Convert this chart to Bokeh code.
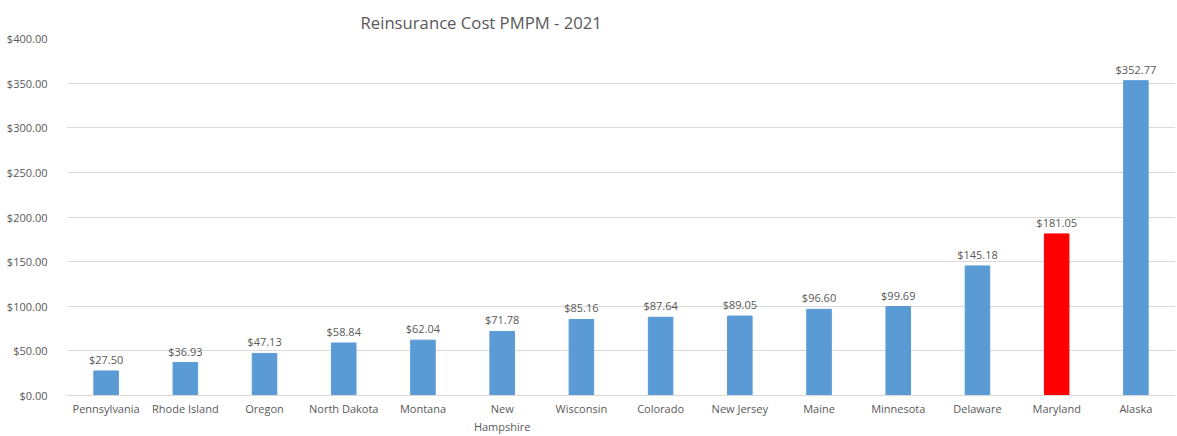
from bokeh.plotting import figure
from bokeh.models import (ColumnDataSource, NumeralTickFormatter, FixedTicker, Title, Range1d,
                          LabelSet, FactorRange, CategoricalAxis, CustomJSTickFormatter)
from bokeh.core.properties import value
from bokeh.embed import file_html
from bokeh.resources import INLINE

states = ["Pennsylvania", "Rhode Island", "Oregon", "North Dakota", "Montana", "New Hampshire",
          "Wisconsin", "Colorado", "New Jersey", "Maine", "Minnesota", "Delaware", "Maryland", "Alaska"]
first_line = ["Pennsylvania", "Rhode Island", "Oregon", "North Dakota", "Montana", "New",
              "Wisconsin", "Colorado", "New Jersey", "Maine", "Minnesota", "Delaware", "Maryland", "Alaska"]
second_line = ["", "", "", "", "", "Hampshire", "", "", "", "", "", "", "", ""]
costs = [27.50, 36.93, 47.13, 58.84, 62.04, 71.78, 85.16, 87.64, 89.05, 96.60, 99.69, 145.18, 181.05, 352.77]
colors = ["#5B9BD5"] * 12 + ["#FF0000"] + ["#5B9BD5"]
yticks = [0, 50, 100, 150, 200, 250, 300, 350, 400]

labels = ["${:.2f}".format(v) for v in costs]
src = ColumnDataSource(dict(state=states, cost=costs, color=colors, label=labels))

FONT = "Open Sans"
GRAY = "#595959"

JS = "const i = keys.indexOf(tick); return i >= 0 ? vals[i] : '';"

p = figure(x_range=FactorRange(factors=states, start=0.0, end=13.86, range_padding=0),
           width=1175, height=436, output_backend="svg", toolbar_location=None,
           min_border_left=66, min_border_right=0, min_border_top=38, min_border_bottom=0)
p.y_range = Range1d(0, 400)

p.vbar(x="state", top="cost", width=0.31, color="color", source=src)

p.add_layout(LabelSet(x="state", y="cost", text="label", source=src, y_offset=4,
                      text_align="center", text_baseline="bottom", text_font=value(FONT),
                      text_font_size="11px", text_color=GRAY))

t = Title(text="Reinsurance Cost PMPM - 2021", align="left", offset=294,
          text_font=FONT, text_font_size="16.7px", text_font_style="normal", text_color=GRAY)
p.add_layout(t, "above")

p.yaxis.ticker = FixedTicker(ticks=yticks)
p.yaxis.formatter = NumeralTickFormatter(format="$0.00")
p.yaxis.axis_line_color = None
p.yaxis.major_tick_line_color = None
p.yaxis.minor_tick_line_color = None
p.yaxis.major_label_text_font = FONT
p.yaxis.major_label_text_font_size = "11px"
p.yaxis.major_label_text_color = GRAY
p.yaxis.major_label_standoff = 13

xa = p.xaxis[0]
xa.axis_line_color = "#d9d9d9"
xa.major_tick_line_color = None
xa.major_tick_in = 0
xa.major_tick_out = 0
xa.minor_tick_line_color = None
xa.major_label_text_font = FONT
xa.major_label_text_font_size = "11px"
xa.major_label_text_color = GRAY
xa.major_label_standoff = 5
xa.formatter = CustomJSTickFormatter(args=dict(keys=states, vals=first_line), code=JS)

xa2 = CategoricalAxis(axis_line_color=None, major_tick_line_color=None, major_tick_in=0,
                      major_tick_out=0, minor_tick_line_color=None,
                      major_label_text_font=FONT, major_label_text_font_size="11px",
                      major_label_text_color=GRAY, major_label_standoff=0,
                      formatter=CustomJSTickFormatter(args=dict(keys=states, vals=second_line), code=JS))
p.add_layout(xa2, "below")

p.xgrid.grid_line_color = None
p.ygrid.grid_line_color = "#d9d9d9"
p.ygrid.grid_line_width = 1
p.outline_line_color = None

open("out.html", "w").write(file_html(p, INLINE))
